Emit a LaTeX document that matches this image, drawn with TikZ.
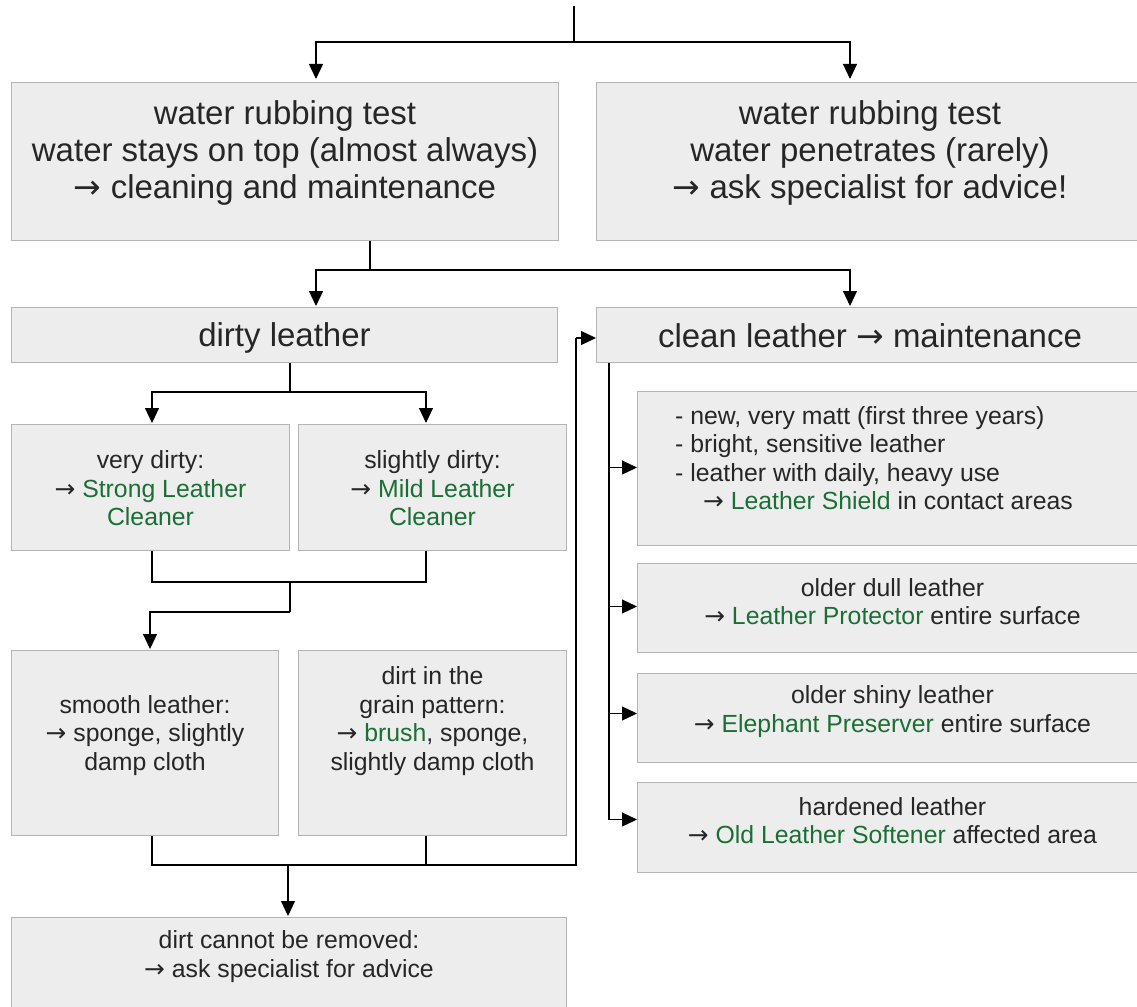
\documentclass[tikz,border=0pt]{standalone}
\usepackage{fontspec}
\setmainfont{Liberation Sans}
\newfontfamily\arrfont{DejaVu Sans}
\usetikzlibrary{arrows.meta}

\definecolor{boxfill}{HTML}{EDEDED}
\definecolor{boxline}{HTML}{B4B4B4}
\definecolor{txtgray}{HTML}{262626}
\definecolor{prodgreen}{HTML}{1B6E36}
\newcommand{\grn}[1]{\textcolor{prodgreen}{#1}}
\newcommand{\rarr}{{\arrfont →}}

\tikzset{
	box/.style = {draw = boxline, fill = boxfill, line width = 1pt, anchor = north west, inner sep = 0pt},
	bigtxt/.style = {font = \fontsize{33}{37}\selectfont, text = txtgray, align = center, inner sep = 0pt},
	smalltxt/.style = {font = \fontsize{24.8}{28.5}\selectfont, text = txtgray, align = center, inner sep = 0pt},
	conn/.style = {line width = 1.2pt},
	trunk/.style = {line width = 2pt},
	arr/.style = {conn, -{Triangle[length = 15pt, width = 14pt]}}
}

\begin{document}
\begin{tikzpicture}[x = 1pt, y = -1pt]
	\useasboundingbox (0, 0) rectangle (1137, 1006);

	% modules
	\node [box, minimum width = 547, minimum height = 158] (stays) at (11, 82) {};
	\node [box, minimum width = 547, minimum height = 158] (pen) at (596, 82) {};
	\node [box, minimum width = 546, minimum height = 55] (dirty) at (11, 307) {};
	\node [box, minimum width = 547, minimum height = 55] (clean) at (596, 307) {};
	\node [box, minimum width = 278, minimum height = 126] (verydirty) at (11, 424) {};
	\node [box, minimum width = 268, minimum height = 126] (slightly) at (298, 424) {};
	\node [box, minimum width = 267, minimum height = 185] (smooth) at (11, 650) {};
	\node [box, minimum width = 268, minimum height = 185] (grain) at (298, 650) {};
	\node [box, minimum width = 555, minimum height = 100] (removed) at (11, 917) {};
	\node [box, minimum width = 510, minimum height = 154] (shield) at (637, 391) {};
	\node [box, minimum width = 510, minimum height = 89] (protector) at (637, 563) {};
	\node [box, minimum width = 510, minimum height = 89] (preserver) at (637, 673) {};
	\node [box, minimum width = 510, minimum height = 90] (softener) at (637, 782) {};

	% texts
	\node [bigtxt] (stays-t) at ([yshift = 8.5pt]stays.center)
		{water rubbing test\\water stays on top (almost always)\\\rarr{} cleaning and maintenance};
	\node [bigtxt] (pen-t) at ([yshift = 8.5pt]pen.center)
		{water rubbing test\\water penetrates (rarely)\\\rarr{} ask specialist for advice!};
	\node [bigtxt] (dirty-t) at ([yshift = -3pt]dirty.center) {dirty leather};
	\node [bigtxt] (clean-t) at ([yshift = -1pt]clean.center) {clean leather \rarr{} maintenance};
	\node [smalltxt] (verydirty-t) at ([yshift = -1pt]verydirty.center)
		{very dirty:\\\rarr{} \grn{Strong Leather}\\\grn{Cleaner}};
	\node [smalltxt] (slightly-t) at ([yshift = -1pt]slightly.center)
		{slightly dirty:\\\rarr{} \grn{Mild Leather}\\\grn{Cleaner}};
	\node [smalltxt] (smooth-t) at ([yshift = 7.5pt]smooth.center)
		{smooth leather:\\\rarr{} sponge, slightly\\damp cloth};
	\node [smalltxt] (grain-t) at ([yshift = 22pt]grain.center)
		{dirt in the\\grain pattern:\\\rarr{} \grn{brush}, sponge,\\slightly damp cloth};
	\node [smalltxt] (removed-t) at ([yshift = 11pt]removed.center)
		{dirt cannot be removed:\\\rarr{} ask specialist for advice};
	\node [smalltxt, align = left, anchor = west] (shield-t) at ([xshift = 38pt, yshift = 10.5pt]shield.west)
		{- new, very matt (first three years)\\- bright, sensitive leather\\- leather with daily, heavy use\\
		\hspace*{28pt}\rarr{} \grn{Leather Shield} in contact areas};
	\node [smalltxt] (protector-t) at ([yshift = 6.5pt]protector.center)
		{older dull leather\\\rarr{} \grn{Leather Protector} entire surface};
	\node [smalltxt] (preserver-t) at ([yshift = 6.5pt]preserver.center)
		{older shiny leather\\\rarr{} \grn{Elephant Preserver} entire surface};
	\node [smalltxt] (softener-t) at ([yshift = 7pt]softener.center)
		{hardened leather\\\rarr{} \grn{Old Leather Softener} affected area};

	% lines
	\coordinate (top) at (574, 6);
	\coordinate (j0) at (574, 42);
	\draw [trunk] (top) -- (j0);
	\draw [arr] (j0) -| ([xshift = 305pt, yshift = 3pt]stays.north west);
	\draw [arr] (j0) -| ([xshift = 254pt, yshift = 3pt]pen.north west);

	\coordinate (j1) at (370, 270);
	\draw [trunk] ([xshift = 359pt]stays.south west) -- (j1);
	\draw [arr] (j1) -| ([xshift = 305pt, yshift = 1pt]dirty.north west);
	\draw [arr] (j1) -| ([xshift = 254pt, yshift = 1pt]clean.north west);

	\coordinate (j2) at (290, 392);
	\draw [trunk] ([xshift = 279pt]dirty.south west) -- (j2);
	\draw [arr] (j2) -| ([xshift = 141pt, yshift = 1pt]verydirty.north west);
	\draw [arr] (j2) -| ([xshift = 128pt, yshift = 1pt]slightly.north west);

	\coordinate (j3) at (290, 582);
	\coordinate (j4) at (290, 612);
	\draw [trunk] ([xshift = 141pt]verydirty.south west) |- (j3) -| ([xshift = 128pt]slightly.south west);
	\draw [trunk] (j3) -- (j4);
	\draw [arr] (j4) -| ([xshift = 139pt, yshift = 1pt]smooth.north west);

	\coordinate (j5) at (288, 865);
	\coordinate (j6) at (576, 865);
	\coordinate (j7) at (576, 338);
	\coordinate (gb) at ([xshift = 128pt]grain.south west);
	\draw [trunk] ([xshift = 141pt]smooth.south west) |- (j6) -- (j7);
	\draw [trunk] (gb) |- (j5);
	\draw [arr] (j7) -- (clean.west |- j7);
	\draw [arr] (j5) -- ([xshift = 277pt, yshift = 1pt]removed.north west);

	\coordinate (cb) at ([xshift = 13pt]clean.south west);
	\foreach \b/\s in {shield/1, protector/1.5, preserver/4.5, softener/8}{
		\coordinate (\b-in) at ([yshift = \s pt]\b.west);
		\draw [arr] (cb |- \b-in) -- (\b-in);
	}
	\draw [trunk] (cb) -- (cb |- softener-in);
\end{tikzpicture}
\end{document}
